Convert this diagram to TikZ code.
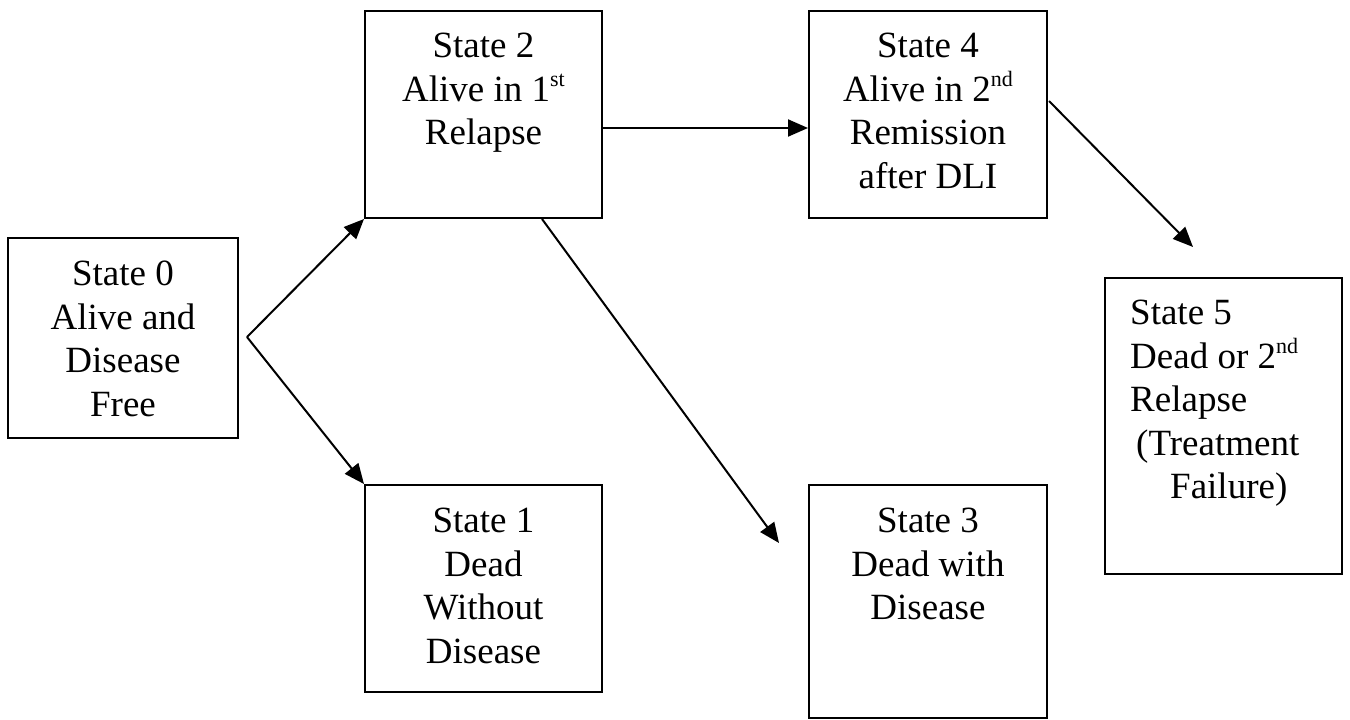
\documentclass[tikz,border=0pt]{standalone}
\usepackage{fontspec}
\setmainfont{Liberation Serif}
\usetikzlibrary{arrows.meta,calc}
\newcommand\mysup[1]{\raisebox{15pt}{\fontsize{22}{22}\selectfont #1}}
\begin{document}
\begin{tikzpicture}[x=1pt,y=-1pt,
  box/.style={draw,line width=2pt,inner sep=0pt,rectangle},
  txt/.style={inner sep=0pt,align=center,anchor=north,font=\fontsize{37}{43.5}\selectfont},
  arr/.style={line width=2pt,-{Triangle[length=20pt,width=17pt]}}]
\useasboundingbox (0,0) rectangle (1350,720);
% boxes
\node[box,minimum width=230pt,minimum height=200pt] (s0) at (123,338) {};
\node[box,minimum width=237pt,minimum height=207pt] (s2) at (483.5,114.5) {};
\node[box,minimum width=238pt,minimum height=207pt] (s4) at (928,114.5) {};
\node[box,minimum width=237pt,minimum height=207pt] (s1) at (483.5,588.5) {};
\node[box,minimum width=238pt,minimum height=233pt] (s3) at (928,601.5) {};
\node[box,minimum width=237pt,minimum height=296pt] (s5) at (1223.5,426) {};
% texts
\node[txt] (t0) at (123,261) {State 0\\Alive and\\Disease\\Free};
\node[txt] (t2) at (483.5,33) {State 2\\Alive in 1\mysup{st}\\Relapse};
\node[txt] (t4) at (928,33) {State 4\\Alive in 2\mysup{nd}\\Remission\\after DLI};
\node[txt] (t1) at (483.5,508) {State 1\\Dead\\Without\\Disease};
\node[txt] (t3) at (928,508) {State 3\\Dead with\\Disease};
\node[txt,align=left,anchor=north west] (t5) at (1130,300) {State 5\\Dead or 2\mysup{nd}\\Relapse\\\hspace*{6pt}(Treatment\\\hspace*{40pt}Failure)};
% connectors
\coordinate (fork) at (247,337);
\coordinate (e3) at (779,543);
\coordinate (e5) at (1193,247);
\draw[arr] (fork) -- (s2.south west);
\draw[arr] (fork) -- (s1.north west);
\draw[arr] ($(s2.north east)+(0,118)$) -- ($(s4.north west)+(0,118)$);
\draw[arr] ($(s2.south west)+(178,0)$) -- (e3);
\draw[arr] ($(s4.north east)+(1,91)$) -- (e5);
\end{tikzpicture}
\end{document}
